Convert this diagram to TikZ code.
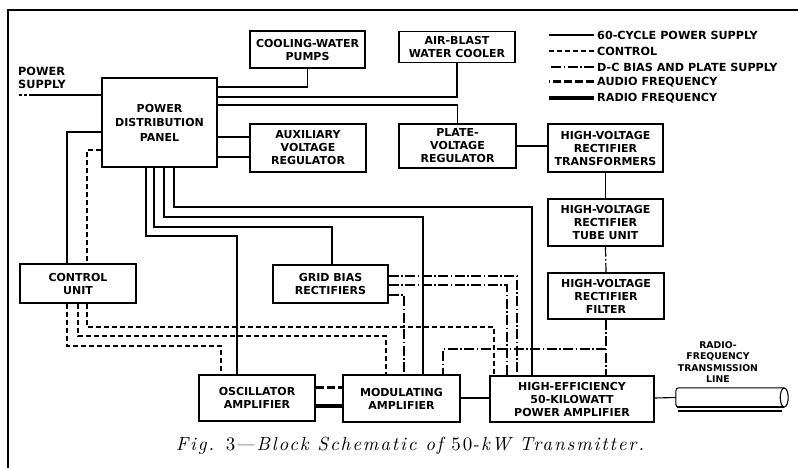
\documentclass[tikz,border=0pt]{standalone}
\usepackage{fontspec}
\newfontfamily\lab{DejaVu Sans}
\newfontfamily\capfont{lmroman10-italic}[Extension=.otf,LetterSpace=10]
\newfontfamily\capup{lmroman10-regular}[Extension=.otf,LetterSpace=10]
\usetikzlibrary{calc}
\begin{document}
\begin{tikzpicture}[x=1pt,y=-1pt,
  blk/.style={draw,line width=1.1pt,align=center,inner sep=0pt,font=\lab\bfseries\fontsize{11}{13}\selectfont},
  leg/.style={anchor=west,inner sep=0pt,font=\lab\bfseries\fontsize{11.2}{12}\selectfont},
  pw/.style={line width=1.1pt},
  ctl/.style={line width=1.2pt,dash pattern=on 5pt off 3pt},
  dcb/.style={line width=1.2pt,dash pattern=on 10pt off 2.5pt on 1.5pt off 2.5pt},
  af/.style={line width=3pt,dash pattern=on 8pt off 3pt},
  rf/.style={line width=3.2pt}]
\useasboundingbox (0,0) rectangle (798,468);
\fill[white] (0,0) rectangle (798,468);
\draw[line width=1.3pt] (8,468) -- (8,10) -- (798,10);

% boxes
\node[blk,minimum width=115pt,minimum height=37pt] (cwp) at (307.5,49.5) {COOLING-WATER\\PUMPS};
\node[blk,minimum width=116pt,minimum height=31pt] (abc) at (457,47) {AIR-BLAST\\WATER COOLER};
\node[blk,minimum width=115pt,minimum height=89pt] (pdp) at (159.5,122.5) {POWER\\[1.5pt]DISTRIBUTION\\[1.5pt]PANEL};
\node[blk,minimum width=116pt,minimum height=48pt] (avr) at (308,148) {AUXILIARY\\VOLTAGE\\REGULATOR};
\node[blk,minimum width=117pt,minimum height=44pt] (pvr) at (457.5,146) {PLATE-\\VOLTAGE\\REGULATOR};
\node[blk,minimum width=115pt,minimum height=48pt] (hvt) at (605.5,148) {HIGH-VOLTAGE\\RECTIFIER\\TRANSFORMERS};
\node[blk,minimum width=115pt,minimum height=47pt] (hvtu) at (605.5,222.5) {HIGH-VOLTAGE\\RECTIFIER\\TUBE UNIT};
\node[blk,minimum width=116pt,minimum height=46pt] (hvf) at (606,296) {HIGH-VOLTAGE\\RECTIFIER\\FILTER};
\node[blk,minimum width=116pt,minimum height=39pt] (cu) at (78,283.5) {CONTROL\\UNIT};
\node[blk,minimum width=115pt,minimum height=38pt] (gbr) at (330.5,284) {GRID BIAS\\RECTIFIERS};
\node[blk,minimum width=116pt,minimum height=46pt] (osc) at (257,398) {OSCILLATOR\\AMPLIFIER};
\node[blk,minimum width=117pt,minimum height=47pt] (mod) at (401.5,398.5) {MODULATING\\AMPLIFIER};
\node[blk,minimum width=164pt,minimum height=46pt] (pa) at (572,399) {HIGH-EFFICIENCY\\50-KILOWATT\\POWER AMPLIFIER};

% transmission line
\node[minimum width=108pt,minimum height=19pt,inner sep=0pt] (tl) at (730,397.5) {};
\draw[line width=1.1pt,rounded corners=3pt] (tl.north east) -- (tl.north west) -- (tl.south west) -- (tl.south east);
\draw[line width=2pt] (tl.south west) ++(1.5,0) -- (tl.south east);
\draw[line width=1.6pt] ($(tl.south west)+(2,3.5)$) -- ($(tl.south east)+(-2,3.5)$);
\draw[line width=1.1pt] (tl.east) ellipse [x radius=4pt,y radius=9.5pt];
\node[align=center,inner sep=0pt,font=\lab\bfseries\fontsize{9.3}{11.3}\selectfont] (tll) at (718,362) {RADIO-\\FREQUENCY\\TRANSMISSION\\LINE};

% power supply
\node[align=left,anchor=north west,inner sep=0pt,font=\lab\bfseries\fontsize{11.3}{13}\selectfont] (ps) at (18,67) {POWER\\SUPPLY};
\coordinate (psin) at (19,95);
\coordinate (psin2) at (30,95);
\draw[ctl,dash pattern=on 3pt off 2pt] (psin) -- (psin2);
\draw[pw] (psin2) -- (pdp.west|-psin2);

% panel connections
\draw[pw] (pdp.east|-0,87) -| (cwp.south);
\draw[pw] (pdp.east|-0,97) -| (abc.south);
\draw[pw] (pdp.east|-0,105) -| (pvr.north);
\draw[pw] (pdp.east|-0,137) -- (avr.west|-0,137);
\draw[pw] (pdp.east|-0,157) -- (avr.west|-0,157);
\draw[pw] (pvr.east|-0,146) -- (hvt.west|-0,146);
\draw[pw,line width=1.6pt] (hvt.south) -- (hvtu.north);
\draw[dcb] (hvtu.south) -- (hvf.north);
\draw[dcb] (hvf.south) -- (hvf.south|-pa.north);
\coordinate (j1) at (hvf.south|-0,349);
\draw[dcb] (j1) -| (443,0|-mod.north);

\draw[pw] (pdp.south-|146,0) |- (237,236) -- (237,0|-osc.north);
\draw[pw] (pdp.south-|154,0) |- (332,227) -- (332,0|-gbr.north);
\draw[pw] (pdp.south-|164,0) |- (423,217) -- (423,0|-mod.north);
\draw[pw] (pdp.south-|174,0) |- (532,207) -- (532,0|-pa.north);

\draw[pw] (pdp.west|-0,132) -| (67,0|-cu.north);
\draw[ctl] (pdp.west|-0,150) -| (87,0|-cu.north);

\draw[ctl] (67,0|-cu.south) |- (221,346) -- (221,0|-osc.north);
\draw[ctl] (78,0|-cu.south) |- (386,336) -- (386,0|-mod.north);
\draw[ctl] (87,0|-cu.south) |- (494,327) -- (494,0|-pa.north);

\draw[dcb] (gbr.east|-0,276) -| (517,0|-pa.north);
\draw[dcb] (gbr.east|-0,285) -| (507,0|-pa.north);
\draw[dcb] (gbr.east|-0,295) -| (404,0|-mod.north);

\draw[af] (osc.east|-0,387) -- (mod.west|-0,387);
\draw[rf] (osc.east|-0,406) -- (mod.west|-0,406);
\draw[pw,line width=1.4pt] (mod.east|-0,398) -- (pa.west|-0,398);
\draw[pw] (pa.east|-0,398) -- (tl.west);

% legend
\node[leg] (t1) at (597,35) {60-CYCLE POWER SUPPLY};
\node[leg] (t2) at (597,51) {CONTROL};
\node[leg] (t3) at (597,67) {D-C BIAS AND PLATE SUPPLY};
\node[leg] (t4) at (597,82) {AUDIO FREQUENCY};
\node[leg] (t5) at (597,98) {RADIO FREQUENCY};
\draw[pw] (t1.west) ++(-3,0) -- ++(-45,0);
\draw[ctl] (t2.west) ++(-3,0) -- ++(-45,0);
\draw[dcb] (t3.west) ++(-3,0) -- ++(-45,0);
\draw[af] (t4.west) ++(-3,0) -- ++(-45,0);
\draw[rf] (t5.west) ++(-3,0) -- ++(-45,0);

% caption
\node[inner sep=0pt,font=\capfont\fontsize{19}{21}\selectfont] (cap) at (410,446) {Fig. {\capup 3}—Block Schematic of {\capup 50}-kW Transmitter.};
\end{tikzpicture}
\end{document}
